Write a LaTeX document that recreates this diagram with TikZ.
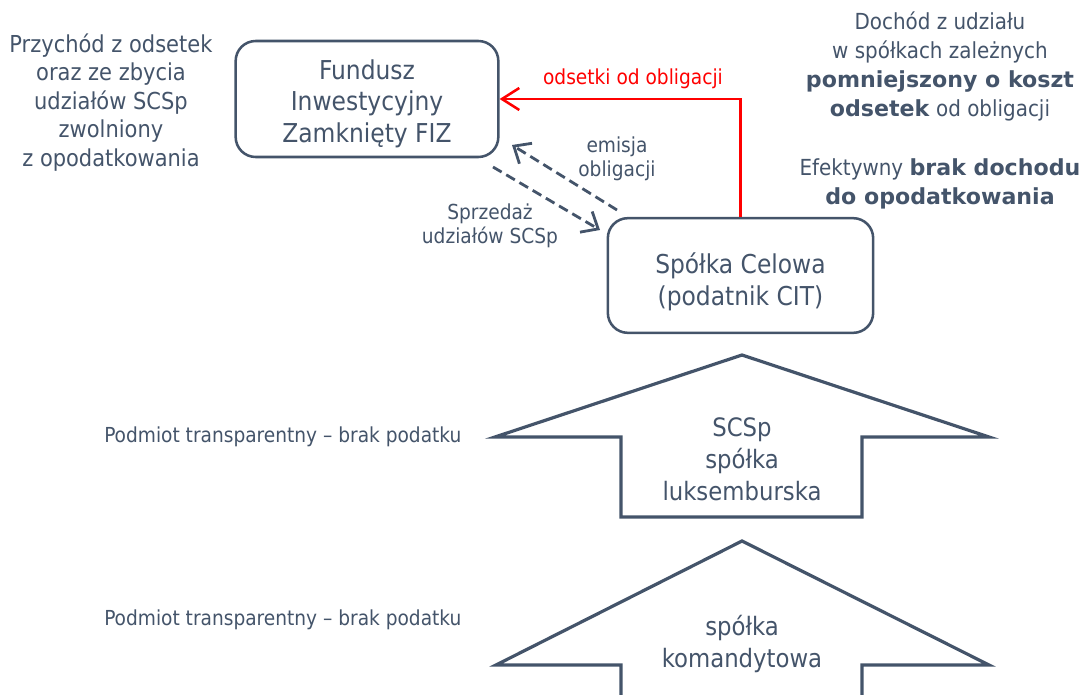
\documentclass[tikz,border=0pt]{standalone}
\usepackage{fontspec}
\setmainfont{DejaVu Sans Condensed}[BoldFont={DejaVu Sans Bold}]
\usetikzlibrary{arrows.meta}
\definecolor{ink}{HTML}{44546A}
\definecolor{hot}{HTML}{FF0000}
\tikzset{
  entity/.style={draw=ink, line width=1.9pt, rounded corners=15pt, inner sep=0pt},
  entitytext/.style={text=ink, align=center, font=\fontsize{19.5}{23.8}\selectfont, inner sep=0pt},
  note/.style={text=ink, align=center, inner sep=0pt},
  flow/.style={draw=hot, line width=1.9pt, -{Straight Barb[length=13pt,width=16.5pt,line width=1.9pt]}},
  deal/.style={draw=ink, line width=2.1pt, dash pattern=on 7.5pt off 4pt,
    -{Straight Barb[length=10.5pt,width=18pt,line width=2.1pt]}},
  layer/.style={draw=ink, line width=2.4pt, line join=miter},
  smalltext/.style={font=\fontsize{15.5}{18}\selectfont},
}
\begin{document}
\begin{tikzpicture}[x=0.75pt,y=-0.75pt]
\useasboundingbox (0,0) rectangle (1089,695);

% entities
\node[entity, minimum width=197pt, minimum height=87pt] (fiz) at (367,99) {};
\node[entitytext] (fiztext) at ([yshift=-3.5pt]fiz.center)
  {Fundusz\\Inwestycyjny\\Zamknięty FIZ};
\node[entity, minimum width=199pt, minimum height=86pt] (cel) at (740.5,275.5) {};
\node[entitytext] (celtext) at ([yshift=-5pt]cel.center)
  {Spółka Celowa\\(podatnik CIT)};

% interest on bonds
\draw[flow] (cel.north) |- (fiz.east);
\node[note, text=hot, smalltext] (odsetki) at (633,79)
  {odsetki od obligacji};

% bond issue and sale of shares
\coordinate (emA) at (617,210);
\coordinate (emB) at (512,145);
\coordinate (spA) at (493,167);
\coordinate (spB) at (600,230);
\draw[deal] (emA) -- (emB);
\draw[deal] (spA) -- (spB);
\node[note, smalltext] (emisja) at (617,158.5)
  {emisja\\obligacji};
\node[note, smalltext] (sprzedaz) at (490,226)
  {Sprzedaż\\udziałów SCSp};

% side notes
\node[note, font=\fontsize{17.5}{21.4}\selectfont] (zwolnienie) at (111,102.5)
  {Przychód z odsetek\\oraz ze zbycia\\udziałów SCSp\\zwolniony\\z opodatkowania};
\node[note, font=\fontsize{16.6}{21.75}\selectfont] (dochod) at (940,66)
  {Dochód z udziału\\w spółkach zależnych\\\textbf{pomniejszony o koszt}\\\textbf{odsetek} od obligacji};
\node[note, font=\fontsize{16.6}{21.75}\selectfont] (brak) at (940,184)
  {Efektywny \textbf{brak dochodu}\\\textbf{do opodatkowania}};

% transparent layers
\draw[layer] (742,355) -- (989,437) -- (862,437) -- (862,517) -- (621,517) -- (621,437) -- (495,437) -- cycle;
\node[note, font=\fontsize{19}{24}\selectfont] (scsp) at (742,459)
  {SCSp\\spółka\\luksemburska};
\node[note, anchor=west, smalltext] (trans1) at (104,437)
  {Podmiot transparentny – brak podatku};

\draw[layer] (621,697) -- (621,665) -- (496,665) -- (742,541) -- (989,665) -- (862,665) -- (862,697);
\node[note, font=\fontsize{19}{24}\selectfont] (sk) at (742,644)
  {spółka\\komandytowa};
\node[note, anchor=west, smalltext] (trans2) at (104,620)
  {Podmiot transparentny – brak podatku};
\end{tikzpicture}
\end{document}
